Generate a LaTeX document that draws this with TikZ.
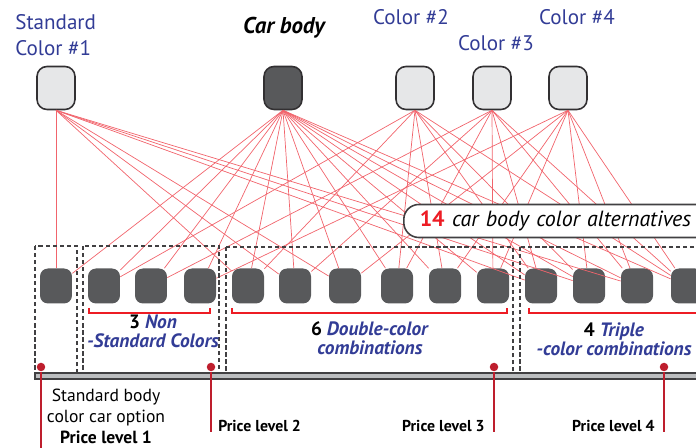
\documentclass[tikz,border=0pt]{standalone}
\usepackage{fontspec}
\setmainfont{PT Sans}
\usepackage{xcolor}
\usepackage{tikz}
\usetikzlibrary{positioning}

\definecolor{txtblue}{RGB}{50,60,150}
\definecolor{darkfill}{RGB}{88,89,91}
\definecolor{lightfill}{RGB}{230,231,232}
\definecolor{edgegray}{RGB}{50,48,50}
\definecolor{dashgray}{RGB}{65,64,66}
\definecolor{barfill}{RGB}{188,190,192}
\definecolor{linkred}{RGB}{241,100,108}
\definecolor{brkred}{RGB}{237,28,36}
\definecolor{lvlred}{RGB}{190,30,45}

\begin{document}
\begin{tikzpicture}[x=0.02cm, y=-0.02cm,
link/.style={draw=linkred, line width=0.4pt},
topbox/.style={rectangle, rounded corners=0.2cm, draw=edgegray, line width=0.9pt, fill=lightfill,
minimum width=0.76cm, minimum height=0.86cm, inner sep=0pt},
alt/.style={rectangle, rounded corners=0.16cm, fill=darkfill, minimum width=0.64cm, minimum
height=0.7cm, inner sep=0pt},
grp/.style={draw=dashgray, line width=0.8pt, dash pattern=on 2.4pt off 1.6pt},
brk/.style={draw=brkred, line width=1.4pt},
lvl/.style={draw=lvlred, line width=1.6pt},
dot/.style={circle, fill=lvlred, inner sep=0pt, minimum size=0.17cm},
ttl/.style={font=\fontsize{12}{14.7}\selectfont, text=txtblue, align=left, inner sep=0pt},
cnt/.style={font=\fontsize{11}{11}\selectfont\bfseries, text=txtblue, align=center, inner sep=0pt},
plbl/.style={font=\fontsize{9}{10}\selectfont\bfseries, inner sep=0pt} ]
\useasboundingbox (0,0) rectangle (696,448);
\clip (0,0) rectangle (696,448);
\node[topbox] (c1) at (56,88) {};
\node[topbox, fill=darkfill] (body) at (283,88) {};
\node[topbox] (c2) at (415,88) {};
\node[topbox] (c3) at (492,88) {};
\node[topbox] (c4) at (568,88) {};
\node[ttl, anchor=west] at (15,35) {Standard\\Color \#1};
\node[font=\fontsize{13}{14}\selectfont\bfseries\itshape, inner sep=0pt] at (284,28) {Car body};
\node[ttl] at (411,17) {Color \#2};
\node[ttl] at (496,43) {Color \#3};
\node[ttl] at (577,17) {Color \#4};
\foreach \x [count=\k] in {56,104,151,200,248,295,345,397,445,493,541,589,637,687}
  \node[alt] (v\k) at (\x,286) {};
\foreach \k in {1,...,14} \draw[link] (body.south) -- (v\k);
\foreach \c/\lst in {c1/{1,5,6,7,11,12,13}, c2/{2,5,8,9,11,12,14}, c3/{3,6,8,10,11,13,14},
  c4/{4,7,9,10,12,13,14}}
  \foreach \k in \lst \draw[link] (\c.south) -- (v\k);
\draw[grp] (35,246) rectangle (77,373);
\draw[grp] (83,246) rectangle (219,373);
\draw[grp] (226,247) rectangle (513,373);
\draw[grp] (520,247) rectangle (720,373);
\draw[fill=barfill, draw=dashgray, line width=0.8pt] (35,373) rectangle (720,379);
\draw[brk] (89,308) |- (210,313) -- (210,308);
\draw[brk] (232,308) |- (507,313) -- (507,308);
\draw[brk] (529,308) |- (720,313);
\node[cnt] at (153,331) {\textcolor{black}{3} \textit{Non}\\\textit{-Standard Colors}};
\node[cnt] at (370,338) {\textcolor{black}{6} \textit{Double-color}\\\textit{combinations}};
\node[cnt] at (614,339) {\textcolor{black}{4} \textit{Triple}\\\textit{-color combinations}};
\foreach \k/\x/\y in {1/41/448, 2/211/432, 3/494/432, 4/664/432} {
  \node[dot] (p\k) at (\x,367) {};
  \coordinate (q\k) at (\x,\y);
  \draw[lvl] (p\k) -- (q\k);
}
\node[font=\fontsize{10}{12}\selectfont, align=center, inner sep=0pt] at (106,416)
{Standard body\\color car option\\\textbf{Price level 1}};
\node[plbl, anchor=west] at (218,426) {Price level 2};
\node[plbl, anchor=east] at (485,426) {Price level 3};
\node[plbl, anchor=east] at (655,426) {Price level 4};
\node[rectangle, rounded corners=0.3cm, draw=dashgray, line width=0.9pt, fill=white, anchor=west,
minimum height=0.66cm, inner xsep=0.32cm, text width=5.8cm, align=left,
font=\fontsize{12.5}{14}\selectfont\itshape] at (403,221)
{\textcolor{brkred}{\bfseries\upshape 14} car body color alternatives};
\end{tikzpicture}
\end{document}
